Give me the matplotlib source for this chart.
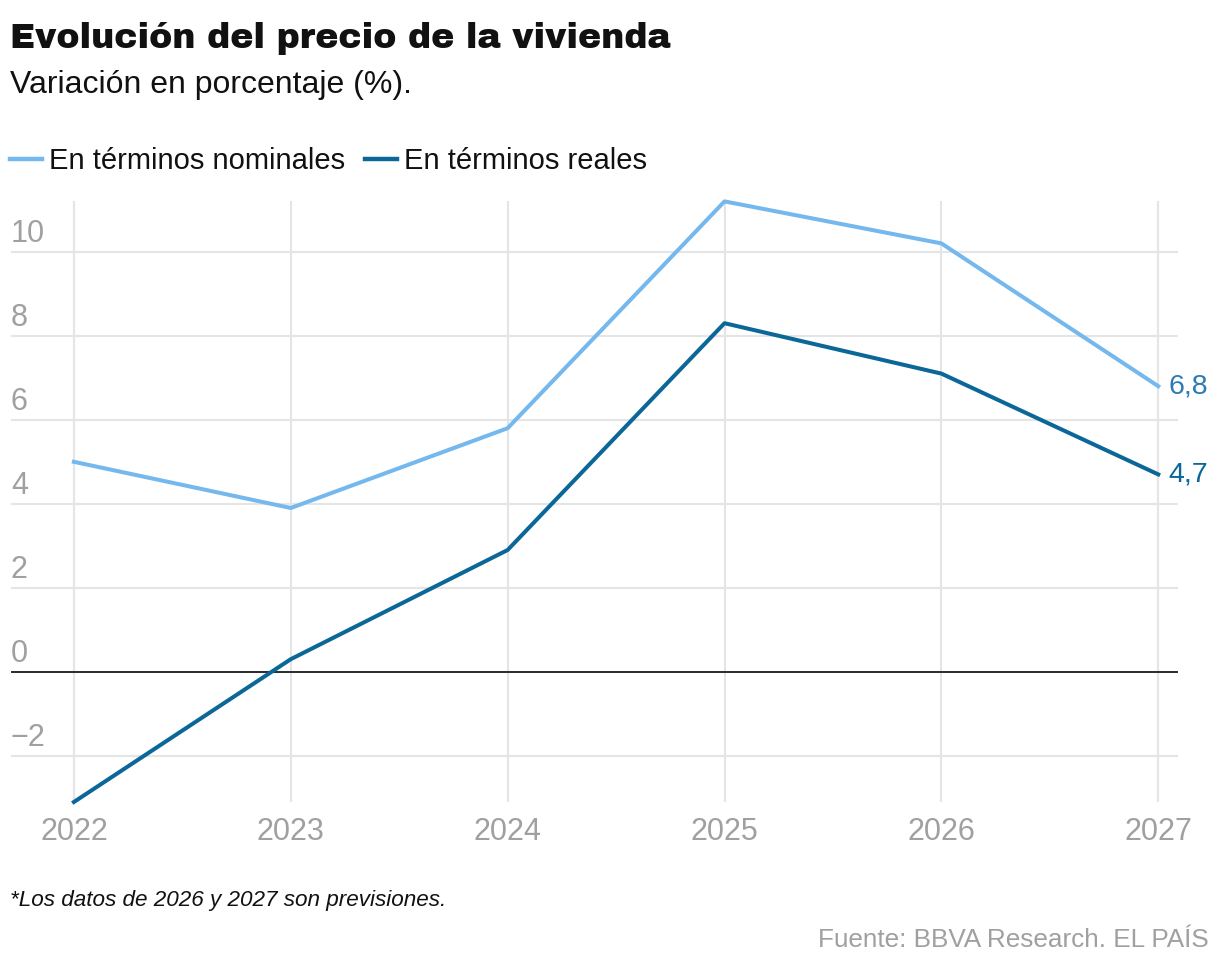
import matplotlib
matplotlib.use("Agg")
import matplotlib.pyplot as plt
from matplotlib.lines import Line2D

# Data
years = [2022, 2023, 2024, 2025, 2026, 2027]
nominal = [5.0, 3.9, 5.8, 11.2, 10.2, 6.8]
real = [-3.1, 0.3, 2.9, 8.3, 7.1, 4.7]
y_ticks = [-2, 0, 2, 4, 6, 8, 10]
y_tick_labels = ["\u22122", "0", "2", "4", "6", "8", "10"]
end_labels = ["6,8", "4,7"]
series_names = ["En términos nominales", "En términos reales"]

C_NOM = "#74b8ee"
C_REAL = "#0b6798"
GRID = "#e5e5e5"
TICK = "#a0a0a0"
HEAVY = ["Archivo Black", "DejaVu Sans"]
SANS = ["Liberation Sans", "DejaVu Sans"]

W, H = 1220, 968
fig = plt.figure(figsize=(W / 100, H / 100), dpi=100)
ax = fig.add_axes([11 / W, 1 - 802 / H, 1167 / W, 600.6 / H])

ax.set_xlim(2021.71, 2027.091)
ax.set_ylim(min(real), max(nominal))

for y in y_ticks:
    if y == 0:
        ax.axhline(0, color="#2a2a2a", lw=1.4, zorder=2)
    else:
        ax.axhline(y, color=GRID, lw=1.5, zorder=1)
for x in years:
    ax.axvline(x, color=GRID, lw=1.5, zorder=1)

ax.plot(years, nominal, color=C_NOM, lw=2.9, zorder=3, clip_on=False)
ax.plot(years, real, color=C_REAL, lw=2.9, zorder=3, clip_on=False)

# y tick labels sit above their gridlines, left aligned
for y, lab in zip(y_ticks, y_tick_labels):
    ax.text(0.0, y + 0.245, lab, transform=ax.get_yaxis_transform(),
            ha="left", va="baseline", fontsize=22, color=TICK, family=SANS)

for x in years:
    ax.text(x, -4.0, str(x), ha="center", va="baseline", fontsize=22,
            color=TICK, family=SANS, clip_on=False)

ax.text(years[-1] + 0.045, nominal[-1], end_labels[0], ha="left", va="center",
        fontsize=20.5, color="#2a7bb4", family=SANS)
ax.text(years[-1] + 0.045, real[-1], end_labels[1], ha="left", va="center",
        fontsize=20.5, color=C_REAL, family=SANS)

for s in ax.spines.values():
    s.set_visible(False)
ax.set_xticks([])
ax.set_yticks([])

# header
fig.text(10 / W, 1 - 48 / H, "Evolución del precio de la vivienda",
         fontsize=25, family=HEAVY, color="#111111", va="baseline")
fig.text(10 / W, 1 - 93 / H, "Variación en porcentaje (%).",
         fontsize=23, family=SANS, color="#111111", va="baseline")

handles = [Line2D([], [], color=C_NOM, lw=3.2), Line2D([], [], color=C_REAL, lw=3.2)]
fig.legend(handles, series_names,
           loc="center left", bbox_to_anchor=(10 / W, 1 - 161 / H),
           ncol=2, frameon=False, borderpad=0, borderaxespad=0,
           handlelength=1.1, handletextpad=0.24, columnspacing=0.68,
           prop={"family": SANS, "size": 21}, labelcolor="#111111")

fig.text(10 / W, 1 - 906 / H, "*Los datos de 2026 y 2027 son previsiones.",
         fontsize=16.2, style="italic", family=SANS, color="#111111", va="baseline")
fig.text(1209 / W, 1 - 947 / H, "Fuente: BBVA Research. EL PAÍS",
         ha="right", fontsize=18.8, family=SANS, color=TICK, va="baseline")

fig.savefig("out.png", dpi=100)
